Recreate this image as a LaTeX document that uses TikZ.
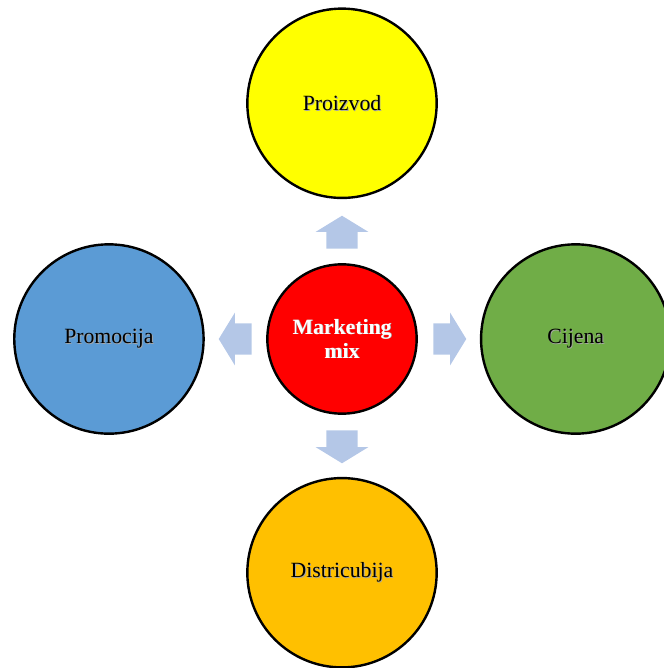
\documentclass[tikz,border=0pt]{standalone}
\usepackage{fontspec}
\setmainfont{Liberation Serif}
\usepackage{tikz}
\usetikzlibrary{positioning,shapes.arrows}

\definecolor{yellowP}{HTML}{FFFF00}
\definecolor{blueP}{HTML}{5B9BD5}
\definecolor{greenP}{HTML}{70AD47}
\definecolor{orangeP}{HTML}{FFC000}
\definecolor{redP}{HTML}{FF0000}
\definecolor{arrowP}{HTML}{B4C7E7}

\newcommand{\shad}[1]{\makebox[0pt][l]{\raisebox{-0.6pt}{\kern0.6pt\textcolor{black!35}{#1}}}#1}

\begin{document}
\begin{tikzpicture}[
x=0.75pt, y=-0.75pt,
bignode/.style={circle, draw=black, line width=1.8pt, minimum size=142pt, inner sep=0pt, font=\fontsize{16.3}{18}\selectfont},
mixnode/.style={circle, draw=black, line width=1.8pt, fill=redP, minimum size=112pt, inner sep=0pt, align=center, text=white, font=\fontsize{16.3}{18}\selectfont\bfseries},
blockarrow/.style={single arrow, fill=arrowP, draw=none, minimum height=24.75pt, inner xsep=0pt, inner ysep=11.6pt, single arrow head extend=7.9pt, single arrow tip angle=117},
]
\useasboundingbox (0,0) rectangle (664,668);
%Nodes
\node[mixnode]                 (mix)       at (342,339)          {\shad{Marketing}\\\shad{mix}};
\node[bignode, fill=yellowP]   (proizvod)  [above=48pt of mix]   {\shad{Proizvod}};
\node[bignode, fill=blueP]     (promocija) [left=46pt of mix]    {\shad{Promocija}};
\node[bignode, fill=greenP]    (cijena)    [right=46.5pt of mix] {\shad{Cijena}};
\node[bignode, fill=orangeP]   (distr)     [below=46.5pt of mix] {\shad{Districubija}};

%Arrows
\node[blockarrow, rotate=90,  anchor=tail] (upArrow)    at (342,249) {};
\node[blockarrow, rotate=180, anchor=tail] (leftArrow)  at (252,339) {};
\node[blockarrow, rotate=0,   anchor=tail] (rightArrow) at (433,339) {};
\node[blockarrow, rotate=-90, anchor=tail] (downArrow)  at (342,430) {};
\end{tikzpicture}
\end{document}
